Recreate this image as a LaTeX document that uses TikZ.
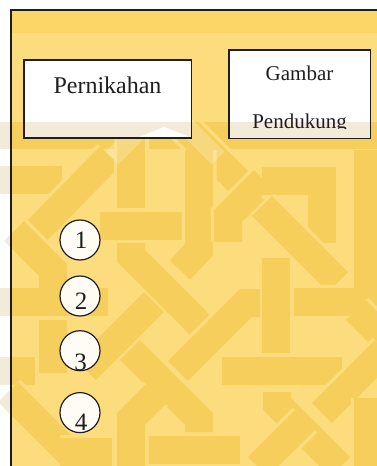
\documentclass[tikz,border=0pt]{standalone}
\usepackage{fontspec}
\setmainfont{Liberation Serif}
\definecolor{bgl}{HTML}{FDDC7E}
\definecolor{topb}{HTML}{FCD767}
\definecolor{strp}{HTML}{F6CE5B}
\definecolor{beige}{HTML}{F3EBDA}
\definecolor{ink}{HTML}{1E1E1E}
\newcommand\mystrip[1]{\draw[stripbg] #1; \draw[stripfg] #1;}
\newcommand\allstrips{%
 \mystrip{(0,135)--(385,135)}
 \mystrip{(0,180)--(62,180)}
 \mystrip{(110,156)--(36,232)}
 \mystrip{(131,122)--(131,208)}
 \mystrip{(100,226)--(182,226)}
 \mystrip{(180,123)--(243,186)}
 \mystrip{(199,150)--(199,250)--(180,270)}
 \mystrip{(228,242)--(228,216)--(264,180)}
 \mystrip{(262,181)--(322,181)--(322,243)}
 \mystrip{(262,206)--(338,282)}
 \mystrip{(292,302)--(368,302)--(368,150)}
 \mystrip{(356,310)--(384,338)}
 \mystrip{(276,258)--(276,353)}
 \mystrip{(131,243)--(131,256)--(200,325)}
 \mystrip{(260,303)--(246,303)--(178,371)}
 \mystrip{(154,302)--(86,370)}
 \mystrip{(130,350)--(199,419)--(199,432)}
 \mystrip{(222,371)--(342,371)}
 \mystrip{(385,350)--(322,413)}
 \mystrip{(277,392)--(277,404)--(340,467)}
 \mystrip{(368,398)--(368,470)}
 \mystrip{(305,420)--(258,467)}
 \mystrip{(146,450)--(240,450)}
 \mystrip{(156,394)--(131,419)--(131,470)}
 \mystrip{(0,302)--(108,302)}
 \mystrip{(14,231)--(53,270)--(53,288)}
 \mystrip{(53,320)--(53,373)}
 \mystrip{(0,371)--(35,371)}
 \mystrip{(8,392)--(70,454)}
 \mystrip{(60,452)--(112,452)}
}
\begin{document}
\begin{tikzpicture}[x=1pt,y=-1pt, line join=miter, line cap=butt,
  boxfill/.style={fill=white, draw=none, inner sep=0pt, anchor=north west},
  boxline/.style={draw=ink, line width=1.5pt},
  circst/.style={circle, draw=ink, line width=1.2pt, fill=white, fill opacity=0.92, draw opacity=1, minimum size=40pt, inner sep=0pt},
  numst/.style={font=\fontsize{25}{25}\selectfont, text=ink, anchor=base, inner sep=0pt},
  lblst/.style={text=ink, anchor=base, inner sep=0pt}]
\useasboundingbox (0,0) rectangle (377,466);
\fill[white] (0,0) rectangle (377,466);
% yellow page
\fill[bgl] (11,11) rectangle (377,466);
\fill[topb] (11,10) rectangle (377,33);
% pattern
\begin{scope}
 \clip (11,122) rectangle (377,466);
 \begin{scope}[stripbg/.style={draw=bgl,line width=35pt}, stripfg/.style={draw=strp,line width=28pt}]
  \allstrips
 \end{scope}
\end{scope}
% washed-out pattern in the left margin
\begin{scope}
 \clip (0,122) rectangle (10,466);
 \begin{scope}[stripbg/.style={draw=white,line width=35pt}, stripfg/.style={draw=beige,line width=28pt}]
  \allstrips
 \end{scope}
\end{scope}
% faint watermark chevron
\draw[white, opacity=0.22, line width=18pt] (112,158)--(165,105)--(218,158);
% frame lines
\draw[ink, line width=2pt] (11,466)--(11,10)--(377,10);
% boxes
\node[boxfill, minimum width=167pt, minimum height=77.5pt] (b1) at (24,60) {};
\fill[beige] (24,122) rectangle (191,137.5);
\fill[white] (138,137.5) -- (164,127) -- (191,137.5) -- cycle;
\draw[boxline] (b1.north west) rectangle (b1.south east);
\node[boxfill, minimum width=141pt, minimum height=88pt] (b2) at (229,50) {};
\fill[beige] (229,122) rectangle (370,138);
\draw[boxline] (b2.north west) rectangle (b2.south east);
\node[lblst, font=\fontsize{24}{24}\selectfont] (t1) at (107.5,93) {Pernikahan};
\node[lblst, font=\fontsize{21}{21}\selectfont] (t2) at (299.5,80) {Gambar};
\begin{scope}
 \clip (229,50) rectangle (371,128.6);
 \node[lblst, font=\fontsize{21}{21}\selectfont] (t3) at (299.5,128) {Pendukung};
\end{scope}
% numbered circles
\node[circst] (c1) at (80,240) {};
\node[circst] (c2) at (80,296) {};
\node[circst] (c3) at (80,350.7) {};
\node[circst] (c4) at (80,412.6) {};
\node[numst] (n1) at (81,248) {1};
\node[numst] (n2) at (81,309) {2};
\node[numst] (n3) at (80.5,370) {3};
\node[numst] (n4) at (81,430) {4};
\end{tikzpicture}
\end{document}
